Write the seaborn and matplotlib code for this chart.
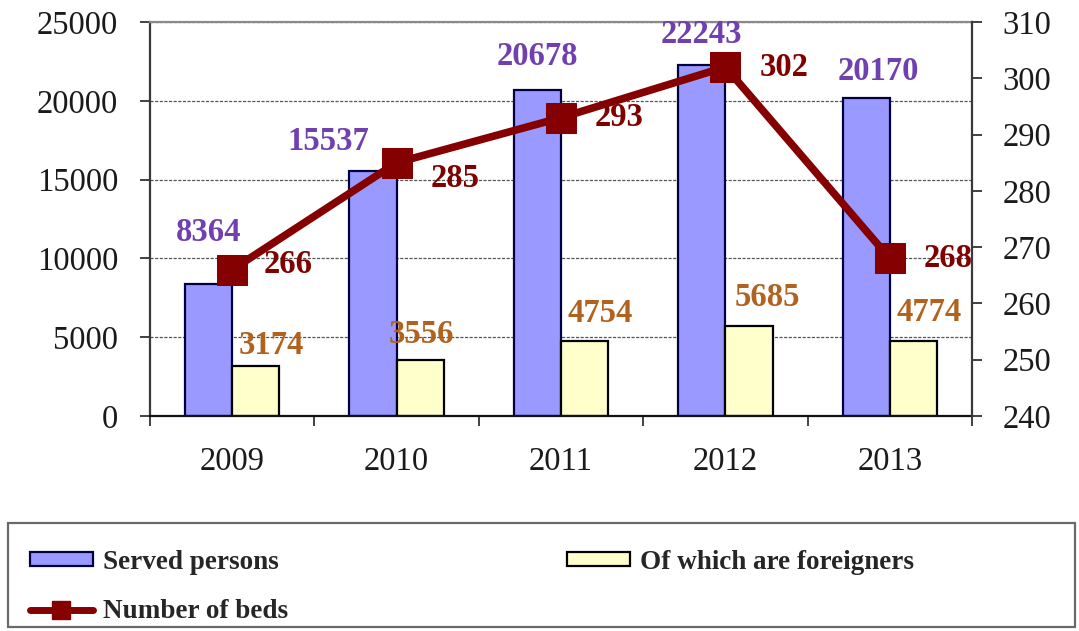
import numpy as np
import pandas as pd
import matplotlib
matplotlib.use("Agg")
import matplotlib.pyplot as plt
from matplotlib.patches import Patch, Rectangle
from matplotlib.lines import Line2D
from matplotlib.ticker import FixedLocator, NullFormatter
import seaborn as sns

# ---- data ----
years = ["2009", "2010", "2011", "2012", "2013"]
served_persons = [8364, 15537, 20678, 22243, 20170]
foreigners = [3174, 3556, 4754, 5685, 4774]
beds = [266, 285, 293, 302, 268]

series_served = "Served persons"
series_foreign = "Of which are foreigners"
series_beds = "Number of beds"

# ---- label nudges (points) ----
served_off = [(0, 37), (-32, 21), (0, 24), (0, 22), (9, 19)]
foreign_off = [(11.5, 14.5), (0.5, 18.5), (11.5, 20), (13, 21), (11.5, 20)]
beds_off = [(40, 4), (42, -11.5), (42, 0), (42, 0), (42, 0)]

# ---- styling ----
BLUE, BLUE_EDGE = "#9999FF", "#000040"
YELLOW, YELLOW_EDGE = "#FFFFCC", "#000000"
RED = "#850000"
C_SERVED = "#7040B0"
C_FOREIGN = "#B0621E"
C_BEDS = "#800000"
TICK_FS = 23.5
LABEL_FS = 23.5

sns.set_theme(style="white")
plt.rcParams["font.family"] = ["Liberation Serif", "DejaVu Serif"]

df = pd.DataFrame({
    "year": years * 2,
    "value": served_persons + foreigners,
    "series": [series_served] * len(years) + [series_foreign] * len(years),
})

fig = plt.figure(figsize=(10.79, 6.31), dpi=100)
ax = fig.add_axes([150 / 1079, 1 - 416 / 631, (972 - 150) / 1079, (416 - 22) / 631])

sns.barplot(data=df, x="year", y="value", hue="series", order=years,
            hue_order=[series_served, series_foreign],
            palette=[BLUE, YELLOW], width=0.575, gap=0, legend=False,
            saturation=1, linewidth=1.6, ax=ax)
for bar in ax.containers[0]:
    bar.set_edgecolor(BLUE_EDGE)
for bar in ax.containers[1]:
    bar.set_edgecolor(YELLOW_EDGE)

ax.set_ylim(0, 25000)
ax.set_xlim(-0.5, len(years) - 0.5)
ax.set_yticks(np.arange(0, 25001, 5000))
ax.set_xlabel("")
ax.set_ylabel("")
ax.set_axisbelow(True)
ax.yaxis.grid(True, linestyle=(0, (2.5, 1.2)), color="#555555", linewidth=0.9)

# spines
ax.spines["top"].set_color("#8a8a8a")
ax.spines["top"].set_linewidth(1.6)
ax.spines["left"].set_color("#3a3a3a")
ax.spines["left"].set_linewidth(1.6)
ax.spines["bottom"].set_color("#111111")
ax.spines["bottom"].set_linewidth(1.6)
ax.spines["right"].set_visible(False)

# category ticks between groups, labels at group centres
ax.xaxis.set_minor_locator(FixedLocator(np.arange(-0.5, len(years), 1.0)))
ax.xaxis.set_minor_formatter(NullFormatter())
ax.tick_params(axis="x", which="major", length=0, pad=22, labelsize=TICK_FS,
               colors="#1a1a1a")
ax.tick_params(axis="x", which="minor", length=7, width=1.3, direction="out",
               color="#333333", bottom=True)
ax.tick_params(axis="y", which="major", length=7, width=1.3, direction="out",
               color="#333333", pad=16, labelsize=TICK_FS, labelcolor="#1a1a1a", left=True)

# value labels on bars
for bar, val, (dx, dy) in zip(ax.containers[0], served_persons, served_off):
    ax.annotate(f"{val}", (bar.get_x() + bar.get_width() / 2, bar.get_height()),
                xytext=(dx, dy), textcoords="offset points", ha="center", va="center",
                fontsize=LABEL_FS, fontweight="bold", color=C_SERVED, zorder=6)
for bar, val, (dx, dy) in zip(ax.containers[1], foreigners, foreign_off):
    ax.annotate(f"{val}", (bar.get_x() + bar.get_width() / 2, bar.get_height()),
                xytext=(dx, dy), textcoords="offset points", ha="center", va="center",
                fontsize=LABEL_FS, fontweight="bold", color=C_FOREIGN, zorder=6)

# beds on secondary axis
ax2 = ax.twinx()
xpos = np.arange(len(years))
sns.lineplot(x=xpos, y=beds, ax=ax2, color=RED, linewidth=5.5, marker="s",
             markersize=21, markeredgecolor=RED, markerfacecolor=RED, zorder=5)
ax2.set_ylim(240, 310)
ax2.set_yticks(np.arange(240, 311, 10))
ax2.set_xlim(-0.5, len(years) - 0.5)
ax.set_xlim(-0.5, len(years) - 0.5)
ax2.set_ylabel("")
ax2.grid(False)
for side in ["top", "left", "bottom"]:
    ax2.spines[side].set_visible(False)
ax2.spines["right"].set_color("#3a3a3a")
ax2.spines["right"].set_linewidth(1.6)
ax2.tick_params(axis="y", which="major", length=7, width=1.3, direction="out",
                color="#333333", pad=15, labelsize=TICK_FS, labelcolor="#1a1a1a", right=True)

for x, val, (dx, dy) in zip(xpos, beds, beds_off):
    ax2.annotate(f"{val}", (x, val), xytext=(dx, dy), textcoords="offset points",
                 ha="center", va="center", fontsize=LABEL_FS, fontweight="bold",
                 color=C_BEDS, zorder=7)

# legend box
fig.patches.append(Rectangle((8 / 1079, 4 / 631), 1067 / 1079, (631 - 523 - 4) / 631,
                             transform=fig.transFigure, fill=False,
                             edgecolor="#6a6a6a", linewidth=1.6))
handles = [
    Patch(facecolor=BLUE, edgecolor=BLUE_EDGE, linewidth=1.6),
    Line2D([], [], color=RED, linewidth=5, marker="s", markersize=13,
           markerfacecolor=RED, markeredgecolor=RED),
    Patch(facecolor=YELLOW, edgecolor=YELLOW_EDGE, linewidth=1.6),
]
labels = [series_served, series_beds, series_foreign]
fig.legend(handles, labels, loc="upper left",
           bbox_to_anchor=(16 / 1079, 1 - 536 / 631), ncol=2, frameon=False,
           prop={"family": "Liberation Serif", "weight": "bold", "size": 19.5},
           handlelength=2.35, handleheight=0.38, handletextpad=0.35,
           columnspacing=10.3, labelspacing=0.9, borderpad=0)

fig.savefig("out.png", dpi=100, facecolor="white")
